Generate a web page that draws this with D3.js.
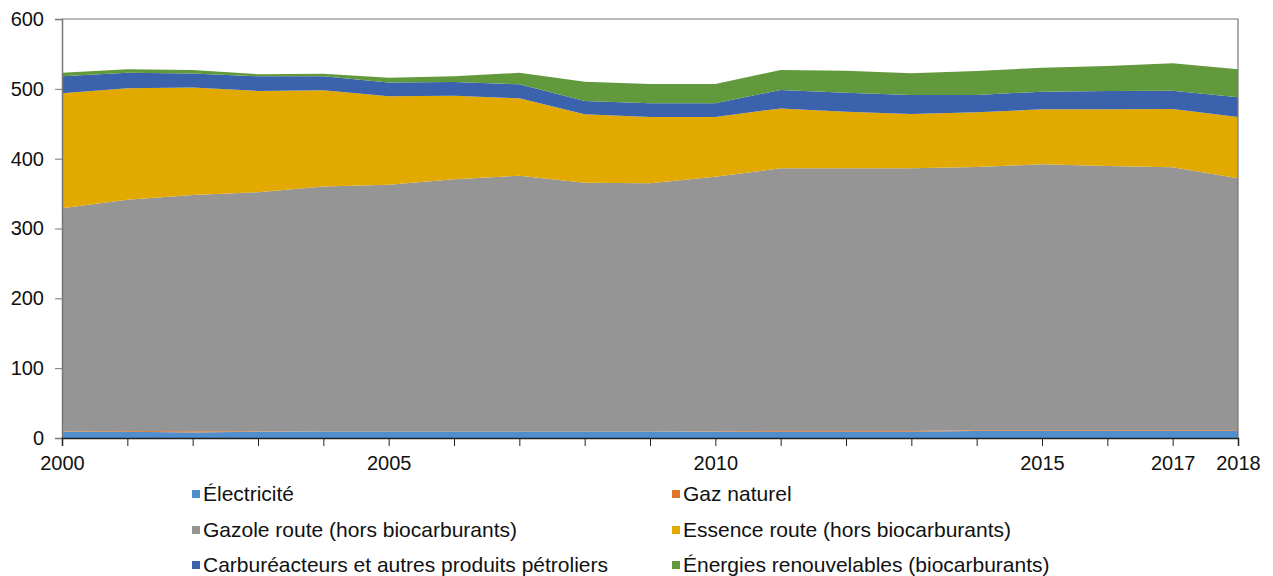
<!DOCTYPE html>
<html>
<head>
<meta charset="utf-8">
<script src="https://cdn.jsdelivr.net/npm/d3@7"></script>
<style>
  body { margin: 0; background: #fff; }
  svg { font-family: "Liberation Sans", Arial, sans-serif; }
</style>
</head>
<body>
<div id="chart"></div>
<script>
const years = [2000, 2001, 2002, 2003, 2004, 2005, 2006, 2007, 2008, 2009,
               2010, 2011, 2012, 2013, 2014, 2015, 2016, 2017, 2018];

const electricite = [9, 9, 8, 9, 9, 9, 9, 9, 9, 9, 9, 9, 9, 9, 10, 10, 10, 10, 10];
const gazNaturel  = [0.5, 1, 1.5, 0.5, 0, 0, 0, 0, 0, 0, 0.5, 1, 1, 1, 1, 1, 1, 1, 1];
const gazole      = [319.5, 331, 338.5, 342.5, 351, 353.5, 361.5, 366.7, 356.6, 355.7,
                     364.7, 376.2, 376.2, 376.2, 377, 380.9, 378.5, 376.7, 360.9];
const essence     = [164.6, 159.8, 154, 145, 138, 127, 119.5, 110.7, 97.9, 95,
                     85.5, 85.8, 81.1, 77.8, 78.4, 78.8, 81.2, 83.4, 87.8];
const carbureact  = [24.4, 22.2, 20, 21, 20, 19.5, 19.8, 20.1, 19.1, 19.6,
                     19.6, 26.4, 27.2, 27.2, 24.8, 25.3, 26.3, 26.3, 28.2];
const biocarbu    = [5, 5, 5, 3, 3.7, 7, 8.2, 16.5, 27.7, 27.7,
                     27.7, 28.6, 31.5, 31, 34.4, 34.3, 35.7, 39.1, 40.1];

const seriesNames = ["Électricité", "Gaz naturel", "Gazole route (hors biocarburants)",
  "Essence route (hors biocarburants)", "Carburéacteurs et autres produits pétroliers",
  "Énergies renouvelables (biocarburants)"];
const seriesValues = [electricite, gazNaturel, gazole, essence, carbureact, biocarbu];
const colors = ["#4f8fcf", "#e0762a", "#959595", "#e2aa00", "#3b63ad", "#62993d"];

const xLabels = [2000, 2005, 2010, 2015, 2017, 2018];
const yTicks = [0, 100, 200, 300, 400, 500, 600];

const width = 1273, height = 576;
const margin = { top: 19, right: 35, bottom: 138, left: 62 };

const keys = d3.range(seriesNames.length);
const table = years.map((y, i) => {
  const row = { year: y };
  keys.forEach(k => { row[k] = seriesValues[k][i]; });
  return row;
});

const stack = d3.stack().keys(keys);
const layers = stack(table);

const svg = d3.select("#chart")
  .append("svg")
  .attr("width", width)
  .attr("height", height);

const xScale = d3.scaleLinear()
  .domain([2000, 2018])
  .range([margin.left, width - margin.right]);

const yScale = d3.scaleLinear()
  .domain([0, 600])
  .range([height - margin.bottom, margin.top]);

const area = d3.area()
  .x(d => xScale(d.data.year))
  .y0(d => yScale(d[0]))
  .y1(d => yScale(d[1]));

svg.selectAll("path.layer")
  .data(layers)
  .enter()
  .append("path")
    .attr("class", "layer")
    .attr("d", area)
    .attr("fill", (d, i) => colors[i]);

// plot frame top and right
svg.append("path")
  .attr("d", `M${margin.left},${margin.top}H${width - margin.right}V${height - margin.bottom}`)
  .attr("fill", "none")
  .attr("stroke", "#777")
  .attr("stroke-width", 1.2);

// y axis
const yAxis = svg.append("g")
  .attr("transform", `translate(${margin.left},0)`)
  .call(d3.axisLeft(yScale).tickValues(yTicks).tickSize(7).tickPadding(11));
yAxis.select(".domain").attr("stroke", "#777").attr("stroke-width", 1.5);
yAxis.selectAll(".tick line").attr("stroke", "#777");
yAxis.selectAll("text").style("font-size", "20px").attr("fill", "#111");

// x axis
const xAxis = svg.append("g")
  .attr("transform", `translate(0,${height - margin.bottom})`)
  .call(d3.axisBottom(xScale).tickValues(years).tickSize(8).tickPadding(10)
    .tickFormat(d => xLabels.includes(d) ? d : ""));
xAxis.select(".domain").attr("stroke", "#222").attr("stroke-width", 1.5);
xAxis.selectAll(".tick line").attr("stroke", "#222");
xAxis.selectAll("text").style("font-size", "20px").attr("fill", "#111");

// legend
const legendX = [192, 672];
const legendY = [494, 530, 565];
const legend = svg.selectAll("g.legend")
  .data(seriesNames)
  .enter()
  .append("g")
    .attr("class", "legend")
    .attr("transform", (d, i) => `translate(${legendX[i % 2]},${legendY[Math.floor(i / 2)]})`);

legend.append("rect")
  .attr("x", 0)
  .attr("y", -4)
  .attr("width", 8)
  .attr("height", 8)
  .attr("fill", (d, i) => colors[i]);

legend.append("text")
  .attr("x", 11)
  .attr("y", 0)
  .attr("dy", "0.35em")
  .style("font-size", "21px")
  .attr("fill", "#111")
  .text(d => d);
</script>
</body>
</html>
